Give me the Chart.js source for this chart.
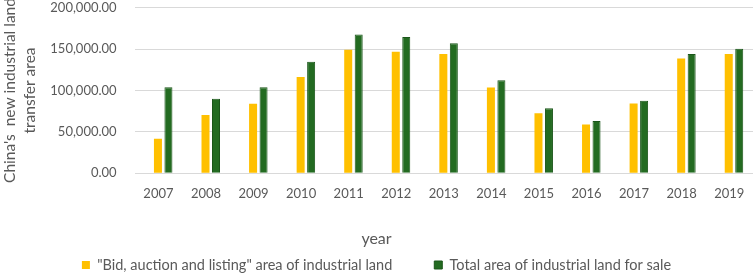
<!DOCTYPE html>
<html>
<head>
<meta charset="utf-8">
<script src="https://cdn.jsdelivr.net/npm/chart.js@4"></script>
<style>
  html, body { margin: 0; padding: 0; background: #ffffff; }
  #wrap { width: 754px; height: 274px; position: relative; }
</style>
</head>
<body>
<div id="wrap"><canvas id="c" width="754" height="274"></canvas></div>
<script>
const years = ["2007","2008","2009","2010","2011","2012","2013","2014","2015","2016","2017","2018","2019"];
const bidAuctionListing = [41600, 70400, 84000, 116400, 149200, 146800, 144000, 103600, 72400, 58800, 84400, 138800, 144000];
const totalForSale = [104000, 90000, 104000, 134800, 167600, 164800, 157200, 112400, 78400, 63200, 87600, 144000, 150400];
const yTicks = [0, 50000, 100000, 150000, 200000];
const seriesNames = ["\"Bid, auction and listing\" area of industrial land", "Total area of industrial land for sale"];
const yTitle = ["China's  new industrial land", "transfer area"];
const xTitle = "year";

const FONT = "Lato, 'Open Sans', sans-serif";
const GREY = "#595959";
const CLEAR = "rgba(0,0,0,0)";

// place the legend row at a fixed vertical position
const legendPlace = {
  id: 'legendPlace',
  afterLayout(chart) {
    const lg = chart.legend;
    if (!lg) return;
    const pad = lg.options.labels.padding;
    const fs = lg.options.labels.font.size;
    const itemH = Math.max(fs, lg.options.labels.boxHeight);
    const top = 265 - itemH / 2 - pad;
    lg.top = top;
    lg.bottom = chart.height;
    lg.height = lg.bottom - lg.top;
  }
};

new Chart(document.getElementById('c'), {
  type: 'bar',
  data: {
    labels: years,
    datasets: [
      { label: seriesNames[0], data: bidAuctionListing, backgroundColor: '#FFC000', borderWidth: 0,
        categoryPercentage: 0.04, barPercentage: 8.42 },
      { label: seriesNames[1], data: totalForSale, backgroundColor: '#236B21', borderColor: '#1B561A', borderWidth: 1,
        categoryPercentage: 0.842, barPercentage: 0.4 }
    ]
  },
  plugins: [legendPlace],
  options: {
    responsive: false,
    animation: false,
    devicePixelRatio: 1,
    layout: { padding: { top: 0, right: 1, left: 0, bottom: 0 } },
    plugins: {
      tooltip: { enabled: false },
      legend: {
        position: 'bottom',
        maxHeight: 26,
        labels: {
          boxWidth: 8, boxHeight: 8, padding: 42,
          color: GREY, font: { family: FONT, size: 14.5 }
        }
      },
      title: {
        display: true, text: xTitle, position: 'bottom', weight: 500,
        color: GREY, font: { family: FONT, size: 16, weight: 'normal' },
        padding: { top: 27, bottom: 0 }
      }
    },
    scales: {
      x: {
        grid: { display: true, color: CLEAR, drawOnChartArea: false, drawTicks: true, tickLength: 13, tickColor: CLEAR },
        border: { display: false },
        ticks: { color: GREY, font: { family: FONT, size: 13 }, padding: 0, maxRotation: 0 }
      },
      y: {
        min: 0, max: 200000,
        afterBuildTicks: (axis) => { axis.ticks = yTicks.map(v => ({ value: v })); },
        grid: { color: '#D9D9D9', lineWidth: 1, drawTicks: true, tickLength: 18, tickColor: CLEAR },
        border: { display: false },
        ticks: {
          color: GREY, font: { family: FONT, size: 13 }, padding: 0,
          callback: (v) => Number(v).toLocaleString('en-US', { minimumFractionDigits: 2, maximumFractionDigits: 2 })
        },
        title: { display: true, text: yTitle, color: GREY, font: { family: FONT, size: 15.5, lineHeight: 1.3 }, padding: { top: 0, bottom: 10 } }
      }
    }
  }
});
</script>
</body>
</html>
